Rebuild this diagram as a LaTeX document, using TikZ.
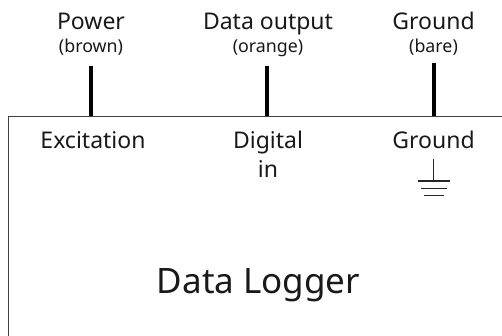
\documentclass[tikz,border=0pt]{standalone}
\usepackage{fontspec}
\setmainfont{Noto Sans}
\tikzset{
  big/.style={font=\fontsize{23}{23}\selectfont,anchor=base,inner sep=0pt,text=black!90},
  small/.style={font=\fontsize{17.8}{18}\selectfont,anchor=base,inner sep=0pt,text=black!90},
  title/.style={font=\fontsize{35}{35}\selectfont,anchor=base,inner sep=0pt,text=black!90},
  wire/.style={line width=3.4pt,black},
  border/.style={line width=0.9pt,black!75},
  gnd/.style={line width=0.9pt,black!85}
}
\begin{document}
\begin{tikzpicture}[x=1pt,y=-1pt]
\useasboundingbox (0,0) rectangle (502,336);
\coordinate (boxbl) at (8,336);
\coordinate (boxtl) at (8,116);
\coordinate (boxtr) at (502,116);
\draw[border] (boxbl) -- (boxtl) -- (boxtr);
\node[big] (power) at (91,30) {Power};
\node[small] (brown) at (91,52.5) {(brown)};
\node[big] (data) at (268,30) {Data output};
\node[small] (orange) at (268,52.5) {(orange)};
\node[big] (ground) at (433.5,30) {Ground};
\node[small] (bare) at (433.5,52.5) {(bare)};
\node[big] (exc) at (93,149) {Excitation};
\node[big] (dig) at (268,149) {Digital};
\node[big] (in) at (268,178) {in};
\node[big] (gin) at (433.5,149) {Ground};
\node[title] (logger) at (258.5,293.5) {Data Logger};
\coordinate (w1) at (91,66);
\coordinate (w2) at (267,66);
\coordinate (w3) at (434,63);
\draw[wire] (w1) -- (w1 |- boxtl);
\draw[wire] (w2) -- (w2 |- boxtl);
\draw[wire] (w3) -- (w3 |- boxtl);
\coordinate (g0) at (433,159);
\coordinate (g1) at (433,181);
\draw[gnd] (g0) -- (g1);
\draw[gnd,line width=1.2pt] (418,181) -- (450,181);
\draw[gnd] (421,188) -- (447,188);
\draw[gnd] (424,195) -- (444,195);
\end{tikzpicture}
\end{document}
